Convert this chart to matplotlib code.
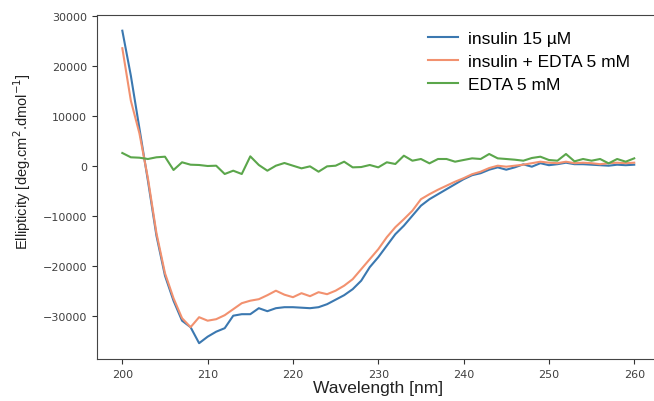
import numpy as np
import matplotlib
matplotlib.use('Agg')
import matplotlib.pyplot as plt

# wavelength grid, 1 nm steps
wavelength = list(range(200, 261))

insulin = [27000, 18000, 7500, -3000, -14000, -22000, -27000, -31000, -32300, -35500,
           -34200, -33200, -32500, -30000, -29700, -29700, -28500, -29100, -28500, -28300,
           -28300, -28400, -28500, -28300, -27700, -26800, -25900, -24700, -23000, -20300,
           -18300, -16000, -13700, -12000, -10000, -8000, -6700, -5700, -4700, -3700,
           -2700, -1900, -1500, -800, -330, -800, -330, 270, -200, 500,
           100, 300, 600, 300, 300, 200, 100, 0, 200, 100,
           200]

insulin_edta = [23500, 13000, 6500, -2500, -13500, -21500, -26500, -30500, -32300, -30300,
                -31000, -30700, -29900, -28700, -27500, -27000, -26700, -25900, -25000, -25800,
                -26300, -25500, -26100, -25300, -25700, -25000, -24000, -22700, -20700, -18700,
                -16700, -14300, -12300, -10700, -9000, -6700, -5700, -4800, -4000, -3200,
                -2500, -1700, -1200, -470, 0, -200, 0, 200, 500, 800,
                600, 500, 800, 500, 600, 500, 300, 500, 600, 500,
                600]

edta = [2540, 1680, 1600, 1340, 1680, 1800, -860, 680, 200, 140,
        -60, 0, -1660, -1000, -1660, 1870, 140, -1000, 0, 540,
        0, -530, -130, -1200, -130, 0, 800, -330, -270, 140,
        -330, 680, 340, 2000, 1000, 1340, 470, 1340, 1340, 800,
        1140, 1470, 1340, 2340, 1470, 1340, 1200, 1000, 1540, 1800,
        1140, 1000, 2340, 870, 1340, 1000, 1340, 470, 1340, 800,
        1470]

labels = ['insulin 15 µM', 'insulin + EDTA 5 mM', 'EDTA 5 mM']
colors = ['#3b78b0', '#f2916f', '#5ba64b']

fig = plt.figure(figsize=(6.54, 4.02), dpi=100)
ax = fig.add_axes([0.1479, 0.1045, 0.861, 0.8557])

for y, lab, c in zip([insulin, insulin_edta, edta], labels, colors):
    ax.plot(wavelength, y, color=c, lw=1.5, label=lab)

ax.set_xlim(197, 263)
ax.set_ylim(-38660, 30140)
ax.set_xticks([200, 210, 220, 230, 240, 250, 260])
ax.set_yticks([-30000, -20000, -10000, 0, 10000, 20000, 30000])
ax.tick_params(labelsize=8, colors='#333333', labelcolor='#404040')
for s in ax.spines.values():
    s.set_color('#444444')

ax.set_xlabel('Wavelength [nm]', fontsize=12.5, family='Liberation Sans', color='#222222',
              labelpad=1)
ax.set_ylabel('Ellipticity [deg.cm$^{2}$.dmol$^{-1}$]', fontsize=10.5, family='Liberation Sans',
              color='#222222')
ax.yaxis.set_label_coords(-0.113, 0.576)

ax.legend(loc='upper right', frameon=False, prop={'family': 'Liberation Sans', 'size': 12.5},
          handlelength=1.7, handletextpad=0.6, bbox_to_anchor=(0.975, 1.0), labelspacing=0.45)

fig.savefig('out.png', dpi=100)
